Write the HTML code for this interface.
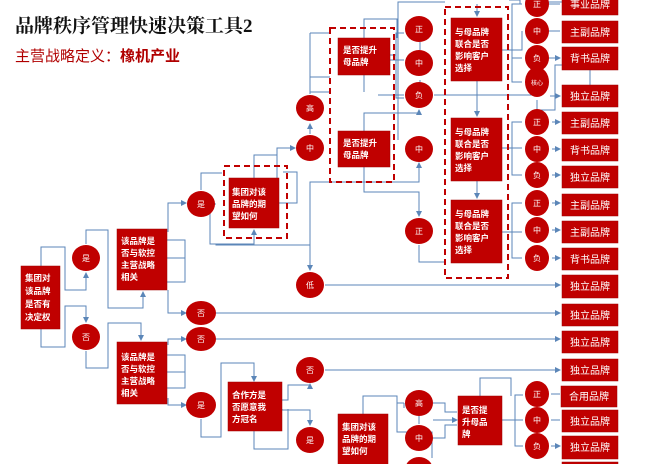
<!DOCTYPE html>
<html><head><meta charset="utf-8"><style>
html,body{margin:0;padding:0;background:#fff;width:646px;height:464px;overflow:hidden}
svg{display:block}
.t{font-family:"Liberation Sans","Noto Sans CJK SC",sans-serif;}
.bx{fill:#c00000;stroke:#a00000;stroke-width:0.5}
.c{fill:#c00000}
.bt{font-family:"Liberation Sans","Noto Sans CJK SC",sans-serif;font-size:8.5px;font-weight:bold;fill:#fff}
.ct{font-family:"Liberation Sans","Noto Sans CJK SC",sans-serif;font-size:8px;fill:#fff;text-anchor:middle}
.rt{font-family:"Liberation Sans","Noto Sans CJK SC",sans-serif;font-size:10px;fill:#fff;text-anchor:middle}
.l{stroke:#5b86b8;stroke-width:1;fill:none}
.d{stroke:#c00000;stroke-width:2;stroke-dasharray:6,4;fill:none}
</style></head><body>
<svg width="646" height="464" viewBox="0 0 646 464" xmlns="http://www.w3.org/2000/svg">
<defs><marker id="a" markerWidth="6" markerHeight="6" refX="5" refY="3" orient="auto"><path d="M0,0L6,3L0,6z" fill="#5b86b8"/></marker></defs>
<text x="15" y="32" font-family="'Liberation Serif','Noto Serif CJK SC',serif" font-size="19" font-weight="bold" fill="#111">品牌秩序管理快速决策工具2</text>
<text x="15" y="61" class="t" font-size="15" fill="#b00000">主营战略定义：<tspan font-weight="bold">橡机产业</tspan></text>

<!-- connectors -->
<g class="l">
<path d="M41,266V247H65V290H86V273" marker-end="url(#a)"/>
<path d="M41,329V347H65V306H86V322" marker-end="url(#a)"/>
<path d="M86,351V368H108V323H141V340" marker-end="url(#a)"/>
<path d="M86,244V230H108V308H143V292" marker-end="url(#a)"/>
<path d="M167,240H185V282H167M167,258H185"/>
<path d="M168,232V203H186" marker-end="url(#a)"/>
<path d="M168,290V313H186" marker-end="url(#a)"/>
<path d="M167,355H185V388H167M167,372H185"/>
<path d="M168,398V405H186" marker-end="url(#a)"/>
<path d="M168,345V339H186" marker-end="url(#a)"/>
<path d="M201,190V173H222"/>
<path d="M216,204H210V244H254V230" marker-end="url(#a)"/>
<path d="M216,244V245H310V270" marker-end="url(#a)"/>
<path d="M279,203H297V172H283"/>
<path d="M254,178V155H277V148H295" marker-end="url(#a)"/>
<path d="M277,155V218"/>
<path d="M310,134V124" marker-end="url(#a)"/>
<path d="M310,94V77H330"/>
<path d="M325,285H560" marker-end="url(#a)"/>
<path d="M216,313H560" marker-end="url(#a)"/>
<path d="M216,339H560" marker-end="url(#a)"/>
<path d="M325,370H560" marker-end="url(#a)"/>
<path d="M201,419V437H221V363H254V381" marker-end="url(#a)"/>
<path d="M282,400H288V385H310V384" marker-end="url(#a)"/>
<path d="M282,409V410H310V425" marker-end="url(#a)"/>
<path d="M254,431V449H288V409"/>
<path d="M310,33H330M310,33V92H330M364,38V19H397V38M364,92V75"/>
<path d="M390,60H404M390,60H396V33H404M390,55H396V98H404" />
<path d="M378,95H404"/>
<path d="M420,42V50M420,80V90"/>
<path d="M364,131V113H419V110" marker-end="url(#a)"/>
<path d="M364,167V192H419V216" marker-end="url(#a)"/>
<path d="M310,245V182H419V163" marker-end="url(#a)"/>
<path d="M398,140V2H445"/>
<path d="M419,245V262H444"/>
<path d="M477,4V16" marker-end="url(#a)"/>
<path d="M477,81V116" marker-end="url(#a)"/>
<path d="M477,181V198" marker-end="url(#a)"/>
<path d="M434,95H540"/>
<path d="M502,50H512V4H522M502,50H522V31M502,50H512V58H522M512,58V82H522"/>
<path d="M502,148H512V122H522M502,148H522M512,148V175H522"/>
<path d="M502,232H512V203H522M502,232H522M512,232V258H522"/>
<path d="M509,0H520V4" />
<path d="M549,4H560M549,31H560M549,58H560" marker-end="url(#a)"/>
<path d="M550,96H560" marker-end="url(#a)"/>
<path d="M552,122H560" marker-end="url(#a)"/>
<path d="M552,149H560" marker-end="url(#a)"/>
<path d="M552,175H560" marker-end="url(#a)"/>
<path d="M552,203H560" marker-end="url(#a)"/>
<path d="M552,230H560" marker-end="url(#a)"/>
<path d="M552,258H560" marker-end="url(#a)"/>
<path d="M590,70V85" />
<path d="M537,100V110H555V65H590"/>
<path d="M542,2H590V15"/>
<path d="M363,414V396H397V432H404M397,403H404M397,432H432V458"/>
<path d="M404,403V408M419,416V424"/>
<path d="M433,403H445V412H457M433,438H445V425H457M433,420H457" marker-end="url(#a)"/>
<path d="M480,396V378H511V396M502,420H515V395H523M502,420H523M515,420V446H523"/>
<path d="M511,396V378"/>
<path d="M551,394H560M551,420H560M551,446H560" marker-end="url(#a)"/>
</g>

<!-- dashed groups -->
<rect class="d" x="224" y="166" width="63" height="72"/>
<rect class="d" x="330" y="28" width="64" height="154"/>
<rect class="d" x="445" y="7" width="63" height="271"/>

<!-- boxes -->
<rect class="bx" x="21" y="266" width="39" height="63"/>
<text class="bt"><tspan x="25" y="281">集团对</tspan><tspan x="25" y="294">该品牌</tspan><tspan x="25" y="307">是否有</tspan><tspan x="25" y="320">决定权</tspan></text>
<rect class="bx" x="117" y="229" width="50" height="61"/>
<text class="bt"><tspan x="121" y="244">该品牌是</tspan><tspan x="121" y="256">否与软控</tspan><tspan x="121" y="268">主营战略</tspan><tspan x="121" y="280">相关</tspan></text>
<rect class="bx" x="117" y="342" width="50" height="62"/>
<text class="bt"><tspan x="121" y="360">该品牌是</tspan><tspan x="121" y="372">否与软控</tspan><tspan x="121" y="384">主营战略</tspan><tspan x="121" y="396">相关</tspan></text>
<rect class="bx" x="229" y="178" width="50" height="50"/>
<text class="bt"><tspan x="232" y="195">集团对该</tspan><tspan x="232" y="207">品牌的期</tspan><tspan x="232" y="219">望如何</tspan></text>
<rect class="bx" x="228" y="382" width="54" height="49"/>
<text class="bt"><tspan x="232" y="398">合作方是</tspan><tspan x="232" y="410">否愿意我</tspan><tspan x="232" y="422">方冠名</tspan></text>
<rect class="bx" x="338" y="38" width="52" height="37"/>
<text class="bt"><tspan x="343" y="53">是否提升</tspan><tspan x="343" y="65">母品牌</tspan></text>
<rect class="bx" x="338" y="131" width="52" height="36"/>
<text class="bt"><tspan x="343" y="146">是否提升</tspan><tspan x="343" y="158">母品牌</tspan></text>
<rect class="bx" x="451" y="18" width="51" height="63"/>
<text class="bt"><tspan x="455" y="35">与母品牌</tspan><tspan x="455" y="47">联合是否</tspan><tspan x="455" y="59">影响客户</tspan><tspan x="455" y="71">选择</tspan></text>
<rect class="bx" x="451" y="118" width="51" height="63"/>
<text class="bt"><tspan x="455" y="135">与母品牌</tspan><tspan x="455" y="147">联合是否</tspan><tspan x="455" y="159">影响客户</tspan><tspan x="455" y="171">选择</tspan></text>
<rect class="bx" x="451" y="200" width="51" height="63"/>
<text class="bt"><tspan x="455" y="217">与母品牌</tspan><tspan x="455" y="229">联合是否</tspan><tspan x="455" y="241">影响客户</tspan><tspan x="455" y="253">选择</tspan></text>
<rect class="bx" x="338" y="414" width="50" height="55"/>
<text class="bt"><tspan x="342" y="430">集团对该</tspan><tspan x="342" y="442">品牌的期</tspan><tspan x="342" y="454">望如何</tspan></text>
<rect class="bx" x="458" y="396" width="44" height="49"/>
<text class="bt"><tspan x="462" y="413">是否提</tspan><tspan x="462" y="425">升母品</tspan><tspan x="462" y="437">牌</tspan></text>

<!-- circles -->
<g class="c">
<ellipse cx="86" cy="258" rx="14" ry="13"/><ellipse cx="86" cy="337" rx="14" ry="13"/>
<ellipse cx="201" cy="204" rx="14" ry="13"/><ellipse cx="201" cy="313" rx="15" ry="12"/><ellipse cx="201" cy="339" rx="15" ry="12"/><ellipse cx="201" cy="405" rx="15" ry="13"/>
<ellipse cx="310" cy="108" rx="14" ry="13"/><ellipse cx="310" cy="148" rx="14" ry="13"/><ellipse cx="310" cy="285" rx="14" ry="13"/><ellipse cx="310" cy="370" rx="14" ry="13"/><ellipse cx="310" cy="440" rx="14" ry="13"/>
<ellipse cx="419" cy="29" rx="14" ry="13"/><ellipse cx="419" cy="63" rx="14" ry="13"/><ellipse cx="419" cy="95" rx="14" ry="13"/><ellipse cx="419" cy="149" rx="14" ry="13"/><ellipse cx="419" cy="231" rx="14" ry="13"/>
<ellipse cx="419" cy="403" rx="14" ry="13"/><ellipse cx="419" cy="438" rx="14" ry="13"/><ellipse cx="419" cy="470" rx="14" ry="13"/>
<ellipse cx="537" cy="4" rx="12" ry="13"/><ellipse cx="537" cy="31" rx="12" ry="13"/><ellipse cx="537" cy="58" rx="12" ry="13"/><ellipse cx="537" cy="82" rx="12" ry="15"/>
<ellipse cx="537" cy="122" rx="12" ry="13"/><ellipse cx="537" cy="149" rx="12" ry="13"/><ellipse cx="537" cy="175" rx="12" ry="13"/>
<ellipse cx="537" cy="203" rx="12" ry="13"/><ellipse cx="537" cy="230" rx="12" ry="13"/><ellipse cx="537" cy="258" rx="12" ry="13"/>
<ellipse cx="537" cy="394" rx="12" ry="13"/><ellipse cx="537" cy="420" rx="12" ry="13"/><ellipse cx="537" cy="446" rx="12" ry="13"/>
</g>
<g class="ct">
<text x="86" y="261">是</text><text x="86" y="340">否</text>
<text x="201" y="207">是</text><text x="201" y="316">否</text><text x="201" y="342">否</text><text x="201" y="408">是</text>
<text x="310" y="111">高</text><text x="310" y="151">中</text><text x="310" y="288">低</text><text x="310" y="373">否</text><text x="310" y="443">是</text>
<text x="419" y="32">正</text><text x="419" y="66">中</text><text x="419" y="98">负</text><text x="419" y="152">中</text><text x="419" y="234">正</text>
<text x="419" y="406">高</text><text x="419" y="441">中</text>
<text x="537" y="7">正</text><text x="537" y="34">中</text><text x="537" y="61">负</text><text x="537" y="85" font-size="6">核心</text>
<text x="537" y="125">正</text><text x="537" y="152">中</text><text x="537" y="178">负</text>
<text x="537" y="206">正</text><text x="537" y="233">中</text><text x="537" y="261">负</text>
<text x="537" y="397">正</text><text x="537" y="423">中</text><text x="537" y="449">负</text>
</g>

<!-- right boxes -->
<g>
<rect class="bx" x="562" y="-6" width="56" height="21"/>
<rect class="bx" x="562" y="21" width="56" height="22"/>
<rect class="bx" x="562" y="47" width="56" height="23"/>
<rect class="bx" x="562" y="85" width="56" height="22"/>
<rect class="bx" x="562" y="112" width="56" height="22"/>
<rect class="bx" x="562" y="139" width="56" height="22"/>
<rect class="bx" x="562" y="166" width="56" height="22"/>
<rect class="bx" x="562" y="194" width="56" height="22"/>
<rect class="bx" x="562" y="221" width="56" height="22"/>
<rect class="bx" x="562" y="248" width="56" height="22"/>
<rect class="bx" x="562" y="275" width="56" height="23"/>
<rect class="bx" x="562" y="304" width="56" height="22"/>
<rect class="bx" x="562" y="331" width="56" height="22"/>
<rect class="bx" x="562" y="359" width="56" height="22"/>
<rect class="bx" x="561" y="386" width="56" height="21"/>
<rect class="bx" x="562" y="410" width="56" height="22"/>
<rect class="bx" x="562" y="436" width="56" height="23"/>
<rect class="bx" x="562" y="462" width="56" height="10"/>
</g>
<g class="rt">
<text x="590" y="8">事业品牌</text>
<text x="590" y="36">主副品牌</text><text x="590" y="62">背书品牌</text><text x="590" y="100">独立品牌</text>
<text x="590" y="127">主副品牌</text><text x="590" y="154">背书品牌</text><text x="590" y="181">独立品牌</text>
<text x="590" y="209">主副品牌</text><text x="590" y="236">主副品牌</text><text x="590" y="263">背书品牌</text>
<text x="590" y="290">独立品牌</text><text x="590" y="319">独立品牌</text><text x="590" y="346">独立品牌</text><text x="590" y="374">独立品牌</text>
<text x="589" y="400">合用品牌</text><text x="590" y="425">独立品牌</text><text x="590" y="451">独立品牌</text>
</g>
</svg>
</body></html>
